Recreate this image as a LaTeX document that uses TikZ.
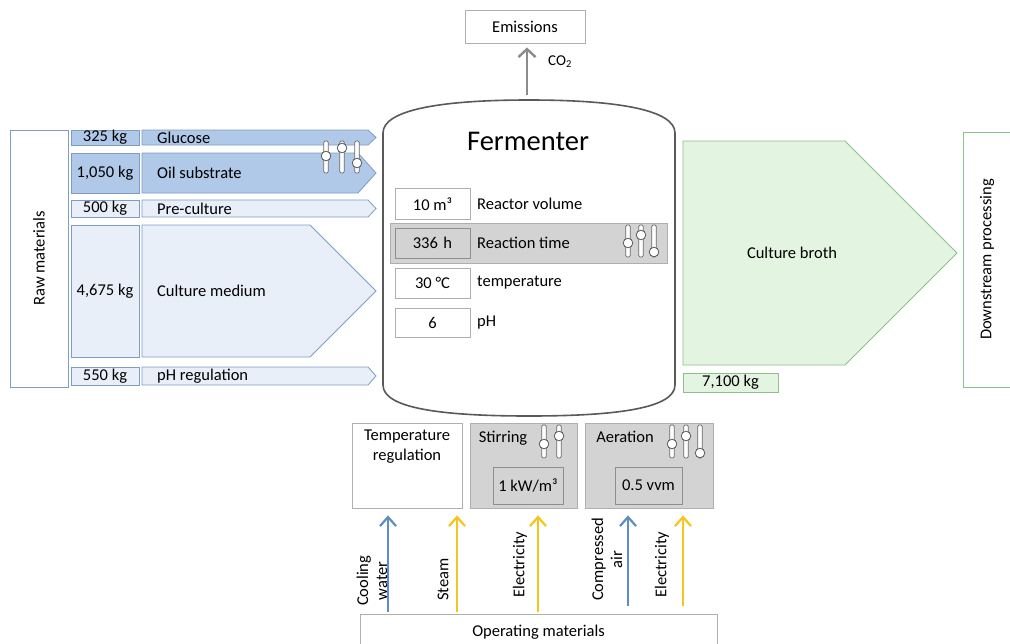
\documentclass[tikz,border=0pt]{standalone}
\usepackage{fontspec}
\setmainfont{Carlito}
\usetikzlibrary{arrows.meta}
\definecolor{bluebd}{HTML}{7F9CC4}
\definecolor{bluedark}{HTML}{B0C9E8}
\definecolor{bluelight}{HTML}{E8EFF8}
\definecolor{greenbd}{HTML}{8CC287}
\definecolor{greenfill}{HTML}{E3F4E0}
\definecolor{graybd}{HTML}{AFAFAF}
\definecolor{grayfill}{HTML}{D3D3D3}
\definecolor{graydk}{HTML}{8E8E8E}
\definecolor{arrblue}{HTML}{5B8FCB}
\definecolor{arryellow}{HTML}{F5C51C}
\newcommand{\sbar}[4]{%
  \draw[trackst] (#1-2.3,#2) rectangle (#1+2.3,#3);
  \draw[knobst] (#1,#4) circle (4.8);}
\begin{document}
\begin{tikzpicture}[x=1pt,y=-1pt,font=\fontsize{16.5}{19}\selectfont,
  wbox/.style={draw=graybd,fill=white,line width=0.8pt,inner sep=0pt},
  dbox/.style={draw=bluebd,fill=bluedark,line width=0.8pt,inner sep=0pt},
  lbox/.style={draw=bluebd,fill=bluelight,line width=0.8pt,inner sep=0pt},
  gbox/.style={draw=greenbd,fill=greenfill,line width=0.8pt,inner sep=0pt},
  grbox/.style={draw=graybd,fill=grayfill,line width=0.8pt,inner sep=0pt},
  innergr/.style={draw=graydk,fill=grayfill,line width=0.8pt,inner sep=0pt},
  txt/.style={inner sep=0pt,anchor=west},
  trackst/.style={draw=black!60,fill=white,line width=0.7pt,rounded corners=1.5pt},
  knobst/.style={draw=black!65,fill=white,line width=0.8pt},
  opin/.style={line width=2.2pt,shorten <=2pt,-{Straight Barb[length=9pt,width=16pt]}},
  vlab/.style={rotate=90,anchor=west,inner sep=0pt,align=center,font=\fontsize{16.5}{19}\selectfont}]
\useasboundingbox (0,0) rectangle (1010,643);

% Raw materials
\node[draw=bluebd,fill=white,line width=0.8pt,minimum width=58,minimum height=257,inner sep=0pt] (raw) at (39,258.5) {};
\node[rotate=90] (rawt) at (raw.center) {Raw materials};

% weight boxes
\node[dbox,minimum width=68,minimum height=15] (w1) at (105,137.5) {325 kg};
\node[dbox,minimum width=68,minimum height=40] (w2) at (105,173) {1,050 kg};
\node[lbox,minimum width=68,minimum height=17] (w3) at (105,208.5) {500 kg};
\node[lbox,minimum width=68,minimum height=132] (w4) at (105,291) {4,675 kg};
\node[lbox,minimum width=68,minimum height=18] (w5) at (105,376) {550 kg};

% flow arrows
\draw[draw=bluebd,fill=bluedark,line width=0.8pt] (142,130) -- (368,130) -- (376,137.5) -- (368,145) -- (142,145) -- cycle;
\node[txt] (glu) at (157,137.5) {Glucose};
\draw[draw=bluebd,fill=bluedark,line width=0.8pt] (142,153) -- (358,153) -- (376,173) -- (358,193) -- (142,193) -- cycle;
\node[txt] (oil) at (157,173) {Oil substrate};
\draw[draw=bluebd,fill=bluelight,line width=0.8pt] (142,200) -- (368,200) -- (376,208.5) -- (368,217) -- (142,217) -- cycle;
\node[txt] (pre) at (157,208.5) {Pre-culture};
\draw[draw=bluebd,fill=bluelight,line width=0.8pt] (142,225) -- (310,225) -- (376,291) -- (310,357) -- (142,357) -- cycle;
\node[txt] (med) at (157,291) {Culture medium};
\draw[draw=bluebd,fill=bluelight,line width=0.8pt] (142,367) -- (368,367) -- (376,376) -- (368,385) -- (142,385) -- cycle;
\node[txt] (phr) at (157,376) {pH regulation};

% slider on glucose/oil
\sbar{326}{141}{173}{156}
\sbar{342}{141}{173}{148}
\sbar{357}{141}{173}{163}

% Fermenter
\draw[draw=black!65,fill=white,line width=1.6pt] (383,385) -- (383,133) .. controls (383,110) and (440,100) .. (529,100) .. controls (618,100) and (675,110) .. (675,133) -- (675,385) .. controls (675,408) and (618,416) .. (529,416) .. controls (440,416) and (383,408) .. (383,385) -- cycle;
\node[font=\fontsize{28.5}{32}\selectfont] (ferm) at (528,141) {Fermenter};
\coordinate (ftop) at (527,100);

% Emissions
\node[draw=graybd,fill=white,line width=0.8pt,minimum width=120,minimum height=33,inner sep=0pt] (emis) at (525,26.5) {Emissions};
\draw[draw=black!45,line width=2.4pt,shorten <=5pt,shorten >=4pt,-{Straight Barb[length=8pt,width=17pt]}] (ftop) -- (ftop |- emis.south);
\node[txt,font=\fontsize{15}{17}\selectfont] (co2) at (548,62) {CO\textsubscript{2}};

% Parameters
\node[wbox,minimum width=75,minimum height=31] (p1) at (432.5,204) {10 m³};
\node[txt] (p1t) at (477,204) {Reactor volume};
\node[grbox,minimum width=277,minimum height=40] (band) at (528.5,243) {};
\node[innergr,minimum width=75,minimum height=30] (p2) at (432.5,243) {336\,\,h};
\node[txt] (p2t) at (477,243) {Reaction time};
\sbar{628}{225}{257}{243}
\sbar{641}{225}{257}{235}
\sbar{654}{225}{257}{252}
\node[wbox,minimum width=75,minimum height=30] (p3) at (432.5,283) {30 °C};
\node[txt] (p3t) at (477,283) {temperature};
\node[wbox,minimum width=75,minimum height=29] (p4) at (432.5,322.5) {6};
\node[txt] (p4t) at (477,322.5) {pH};

% Culture broth
\draw[draw=greenbd,fill=greenfill,line width=0.8pt] (683,141) -- (845,141) -- (957,253) -- (845,365) -- (683,365) -- cycle;
\node (broth) at (792,253) {Culture broth};
\node[gbox,minimum width=95,minimum height=19] (kg) at (730.5,382.5) {7,100 kg};
\node[draw=greenbd,fill=white,line width=0.8pt,minimum width=60,minimum height=255,inner sep=0pt] (down) at (993,259.5) {};
\node[rotate=90] (downt) at (987,259.5) {Downstream processing};

% Bottom boxes
\node[wbox,minimum width=110,minimum height=85] (treg) at (407,465.5) {};
\node[align=center,anchor=north,inner sep=0pt,font=\fontsize{16.5}{20}\selectfont] (tregt) at (407,430) {Temperature\\regulation};
\node[grbox,minimum width=107,minimum height=85] (stir) at (523.5,465.5) {};
\node[inner sep=0pt] (stirt) at (503,438) {Stirring};
\sbar{544}{425}{458}{444}
\sbar{559}{425}{458}{436}
\node[innergr,minimum width=70,minimum height=37] (stirv) at (528,485.5) {1 kW/m³};
\node[grbox,minimum width=128,minimum height=85] (aer) at (649,465.5) {};
\node[inner sep=0pt] (aert) at (625,437) {Aeration};
\sbar{672}{425}{458}{444}
\sbar{686}{425}{458}{436}
\sbar{700}{425}{458}{453}
\node[innergr,minimum width=67,minimum height=37] (aerv) at (648.5,485.5) {0.5 vvm};

% Operating materials
\node[draw=graybd,fill=white,line width=0.8pt,minimum width=357,minimum height=40,inner sep=0pt,anchor=north] (opm) at (538.5,614) {};
\node (opmt) at (538.5,632) {Operating materials};

% arrows
\coordinate (a1) at (388,0);
\coordinate (a2) at (457,0);
\coordinate (a3) at (538,0);
\coordinate (a4) at (628,0);
\coordinate (a5) at (683,0);
\draw[opin,draw=arrblue,shorten >=7pt] (a1 |- opm.north) -- (a1 |- treg.south);
\draw[opin,draw=arryellow,shorten >=7pt] (a2 |- opm.north) -- (a2 |- treg.south);
\draw[opin,draw=arryellow,shorten >=7pt] (a3 |- opm.north) -- (a3 |- stir.south);
\draw[opin,draw=arrblue,shorten <=8pt,shorten >=7pt] (a4 |- opm.north) -- (a4 |- aer.south);
\draw[opin,draw=arryellow,shorten <=8pt,shorten >=7pt] (a5 |- opm.north) -- (a5 |- aer.south);

\node[vlab] (l1) at (372,606) {Cooling\\water};
\node[vlab] (l2) at (443,601) {Steam};
\node[vlab] (l3) at (520,598) {Electricity};
\node[vlab] (l4) at (607,601) {Compressed\\air};
\node[vlab] (l5) at (662,598) {Electricity};
\end{tikzpicture}
\end{document}
